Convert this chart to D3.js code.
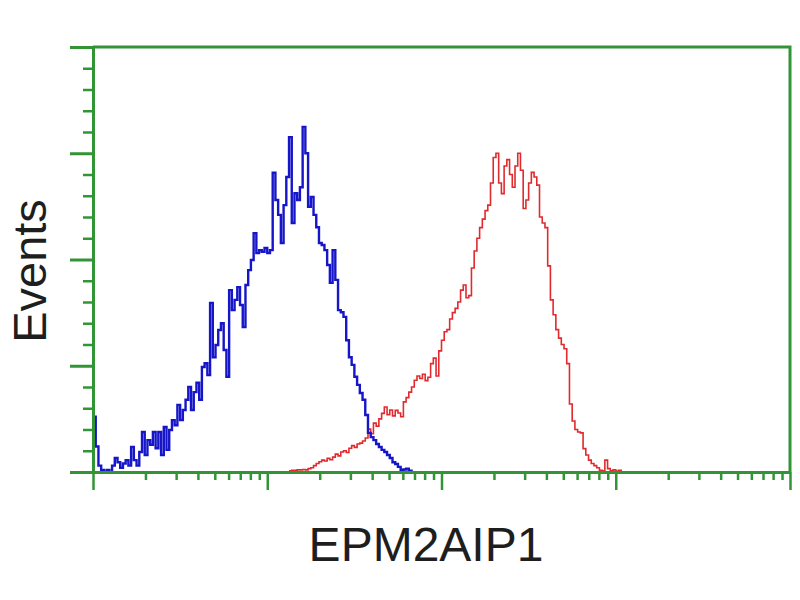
<!DOCTYPE html>
<html>
<head>
<meta charset="utf-8">
<script src="https://cdn.jsdelivr.net/npm/d3@7"></script>
<style>
    body { margin: 0; background: #fff; }
    .label { font-family: "Liberation Sans", Arial, sans-serif; fill: #1e1e1e; }
</style>
</head>
<body>
<div id="chart"></div>
<script>
// histogram channels (256 channels over 4 decades)
const channels = 256;
const decades = 4;

// blue: isotype control, starts at channel 0
const blueStart = 0;
const blueCounts = [
    13, 6, 1.5, 0.5, 0, 0.5, 0, 1.5, 3.3, 2.3,
    1, 2, 2.8, 1.5, 5.9, 2.8, 1.5, 4.7, 9.4, 4,
    7.5, 6.4, 9.4, 5.6, 9.4, 4, 10.6, 5.2, 9.9, 12.2,
    11, 15.8, 12.2, 14.6, 17, 20, 14.6, 18.8, 21, 17,
    24.7, 25.6, 22.8, 39.8, 27, 29.9, 33.4, 35, 28.7, 22.4,
    42.8, 38.1, 40.5, 43.5, 39.3, 34.1, 44, 47.5, 49.9, 56.2,
    51.5, 52.2, 51.8, 52.7, 51.5, 52.2, 70.4, 64, 60.5, 53.9,
    62.8, 69.4, 78.8, 58.6, 65.6, 64, 67, 81.2, 75, 62.4,
    64.7, 60.5, 57.6, 53.9, 53.4, 52.2, 48.7, 44.5, 52.2, 45.2,
    38.1, 37.6, 36.5, 31, 27, 25.2, 22.4, 20.5, 18.6, 17,
    13.4, 9.2, 8.2, 7.5, 6.6, 5.9, 5.2, 4.7, 4, 3.3,
    2.3, 1.9, 1.2, 0.5, 0.6, 0.8, 0.3, 0
];

// red: EPM2AIP1 stained cells, starts at channel 72
const redStart = 72;
const redCounts = [
    0.3, 0.4, 0.4, 0.5, 0.5, 0.6, 0.5, 0.8, 1.0, 1.5,
    2.0, 2.4, 2.8, 2.6, 3.2, 2.9, 3.5, 4.2, 3.8, 4.7,
    5.0, 4.6, 5.6, 6.2, 5.8, 6.6, 6.8, 7.3, 8.0, 10.1,
    9.0, 11.5, 10.8, 12.5, 13.8, 15.3, 13.5, 14.6, 13.2, 14.5,
    13.9, 13.0, 16.5, 17.5, 18.8, 20.0, 21.6, 22.6, 22.0, 23.0,
    21.5, 22.3, 25.5, 26.8, 22.6, 28.5, 31.0, 33.0, 33.5, 36.0,
    37.5, 38.5, 40.0, 42.8, 44.0, 41.0, 41.5, 48.0, 52.0, 55.0,
    57.5, 59.5, 61.5, 62.8, 68.0, 74.0, 75.0, 68.0, 65.5, 72.0,
    73.5, 70.0, 67.0, 72.0, 75.0, 71.0, 62.0, 64.0, 68.0, 70.5,
    69.4, 67.5, 60.0, 58.6, 57.5, 48.5, 40.5, 37.0, 33.5, 31.5,
    30.0, 29.0, 25.5, 16.0, 12.0, 10.0, 9.4, 9.2, 5.5, 4.0,
    2.8, 2.0, 1.5, 1.0, 0.4, 0.3, 2.8, 0.8, 0.3, 0.5,
    0.2, 0.4, 0
];

const yMajor = [0, 25, 50, 75, 100];
const yMinor = d3.range(0, 101, 5);

const width = 800;
const height = 600;
const margin = ({top: 47, right: 10, bottom: 128, left: 93});
const axisColor = "#339436";

const x = d3.scaleLog()
    .domain([1, Math.pow(10, decades)])
    .range([margin.left, width - margin.right]);

const y = d3.scaleLinear()
    .domain([0, 100])
    .range([height - margin.bottom, margin.top]);

const chanValue = c => Math.pow(10, c * decades / channels);

const svg = d3.select("#chart").append("svg")
    .attr("width", width)
    .attr("height", height)
    .attr("viewBox", [0, 0, width, height]);

function series(counts, start) {
    return counts.map((v, i) => [chanValue(start + i), v]);
}

const line = d3.line()
    .x(d => x(d[0]))
    .y(d => y(d[1]))
    .curve(d3.curveStepAfter);

svg.append("path")
    .datum(series(redCounts, redStart))
    .attr("fill", "none")
    .attr("stroke", "#e02a2e")
    .attr("stroke-width", 1.6)
    .attr("d", line);

svg.append("path")
    .datum(series(blueCounts, blueStart))
    .attr("fill", "none")
    .attr("stroke", "#1616c8")
    .attr("stroke-width", 2.4)
    .attr("d", line);

// frame top and right
svg.append("path")
    .attr("fill", "none")
    .attr("stroke", axisColor)
    .attr("stroke-width", 3)
    .attr("d", `M${x.range()[0]},${y(100)}H${x.range()[1]}V${y(0)}`);

// x axis (log, decades)
const xMinor = [];
for (let d = 0; d < decades; d++) {
    for (let k = 2; k <= 9; k++) xMinor.push(k * Math.pow(10, d));
}
const xMajor = d3.range(0, decades + 1).map(d => Math.pow(10, d));

svg.append("g")
    .attr("transform", `translate(0,${y(0)})`)
    .call(d3.axisBottom(x).tickValues(xMinor).tickSize(8).tickFormat("").tickSizeOuter(0))
    .call(g => g.select(".domain").remove())
    .call(g => g.selectAll("line").attr("stroke", axisColor).attr("stroke-width", 2.5));

svg.append("g")
    .attr("transform", `translate(0,${y(0)})`)
    .call(d3.axisBottom(x).tickValues(xMajor).tickSize(18).tickFormat("").tickSizeOuter(0))
    .call(g => g.select(".domain").attr("stroke", axisColor).attr("stroke-width", 3))
    .call(g => g.selectAll("line").attr("stroke", axisColor).attr("stroke-width", 2.5));

// y axis (linear)
svg.append("g")
    .attr("transform", `translate(${margin.left},0)`)
    .call(d3.axisLeft(y).tickValues(yMinor.filter(v => v % 25 !== 0)).tickSize(10).tickFormat("").tickSizeOuter(0))
    .call(g => g.select(".domain").remove())
    .call(g => g.selectAll("line").attr("stroke", axisColor).attr("stroke-width", 2.5));

svg.append("g")
    .attr("transform", `translate(${margin.left},0)`)
    .call(d3.axisLeft(y).tickValues(yMajor).tickSize(23).tickFormat("").tickSizeOuter(0))
    .call(g => g.select(".domain").attr("stroke", axisColor).attr("stroke-width", 3))
    .call(g => g.selectAll("line").attr("stroke", axisColor).attr("stroke-width", 3));

svg.append("text")
    .attr("class", "label")
    .attr("x", 426)
    .attr("y", 561)
    .attr("text-anchor", "middle")
    .attr("font-size", 48)
    .text("EPM2AIP1");

svg.append("text")
    .attr("class", "label")
    .attr("transform", "translate(46,271) rotate(-90)")
    .attr("text-anchor", "middle")
    .attr("font-size", 47)
    .text("Events");
</script>
</body>
</html>
